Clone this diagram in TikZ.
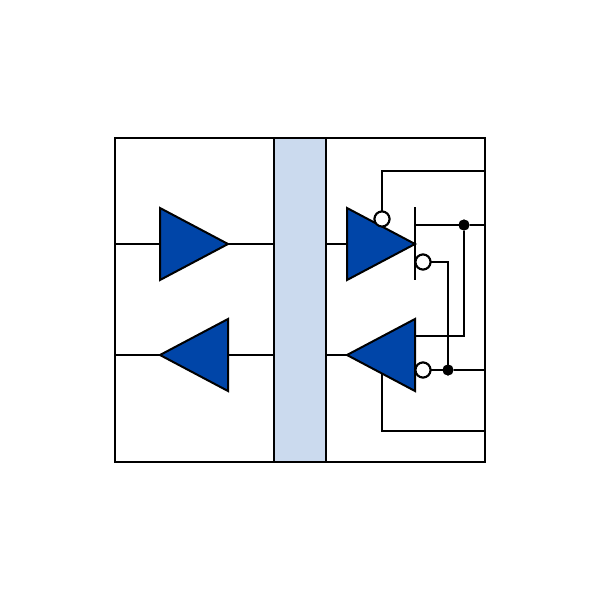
\documentclass[tikz,border=0pt]{standalone}
\definecolor{ampblue}{HTML}{0045A8}
\definecolor{busblue}{HTML}{CBDAEE}
\tikzset{
  wire/.style={draw=black,line width=2pt},
  amp/.style={draw=black,fill=ampblue,line width=2pt,line join=miter},
  bubble/.style={circle,draw=black,fill=white,line width=2pt,minimum size=15pt,inner sep=0pt,outer sep=0pt},
  junction/.style={circle,fill=black,minimum size=11pt,inner sep=0pt,outer sep=0pt}
}
\begin{document}
\begin{tikzpicture}[x=1pt,y=-1pt]
\useasboundingbox (0,0) rectangle (600,600);
% frame and bus
\coordinate (boxNW) at (115,138);
\coordinate (boxSE) at (485,462);
\fill[white] (0,0) rectangle (600,600);
\draw[wire] (boxNW) rectangle (boxSE);
\node[draw=black,fill=busblue,line width=2pt,minimum width=52pt,minimum height=324pt,inner sep=0pt,outer sep=0pt] (bus) at (300,300) {};
% terminals
\coordinate (L1) at (115,244);
\coordinate (L2) at (115,355);
\coordinate (TopTip) at (228,244);
\coordinate (TopIn) at (160,244);
\coordinate (BotIn) at (228,355);
\coordinate (BotTip) at (160,355);
\coordinate (RTopIn) at (347,244);
\coordinate (RTopTip) at (415,244);
\coordinate (RBotTip) at (347,355);
\coordinate (BusL1) at (274,244);
\coordinate (BusL2) at (274,355);
\coordinate (BusR1) at (326,244);
\coordinate (BusR2) at (326,355);
\coordinate (RailA) at (485,171);
\coordinate (RailB) at (485,225);
\coordinate (RailC) at (485,370);
\coordinate (RailD) at (485,431);
\coordinate (BarTop) at (415,207);
\coordinate (BarBot) at (415,280);
\coordinate (GateLow) at (415,336);
\coordinate (UpBend) at (382,171);
\coordinate (LowBend) at (382,431);
\coordinate (LowStart) at (382,373);
\coordinate (MidBend) at (464,336);
\coordinate (InnerBend) at (448,262);
% bubbles and junctions
\node[bubble] (bubA) at (382,219) {};
\node[bubble] (bubB) at (423,262) {};
\node[bubble] (bubC) at (423,370) {};
\node[junction] (dotA) at (464,225) {};
\node[junction] (dotB) at (448,370) {};
% wires
\draw[wire] (L1) -- (TopIn);
\draw[wire] (TopTip) -- (BusL1);
\draw[wire] (L2) -- (BotTip);
\draw[wire] (BotIn) -- (BusL2);
\draw[wire] (BusR1) -- (RTopIn);
\draw[wire] (BusR2) -- (RBotTip);
\draw[wire] (bubA.north) -- (UpBend) -- (RailA);
\draw[wire] (BarTop) -- (BarBot);
\draw[wire] (RTopTip |- RailB) -- (dotA) -- (RailB);
\draw[wire] (dotA) -- (MidBend) -- (GateLow);
\draw[wire] (bubB.east) -- (InnerBend) -- (dotB);
\draw[wire] (bubC.east) -- (dotB) -- (RailC);
\draw[wire] (LowStart) -- (LowBend) -- (RailD);
% amplifiers
\draw[amp] (160,208) -- (160,280) -- (TopTip) -- cycle;
\draw[amp] (228,319) -- (228,391) -- (BotTip) -- cycle;
\draw[amp] (347,208) -- (347,280) -- (RTopTip) -- cycle;
\draw[amp] (415,319) -- (415,391) -- (RBotTip) -- cycle;
% redraw bubbles and dots on top
\node[bubble] at (bubA) {};
\node[bubble] at (bubB) {};
\node[bubble] at (bubC) {};
\node[junction] at (dotA) {};
\node[junction] at (dotB) {};
\end{tikzpicture}
\end{document}
